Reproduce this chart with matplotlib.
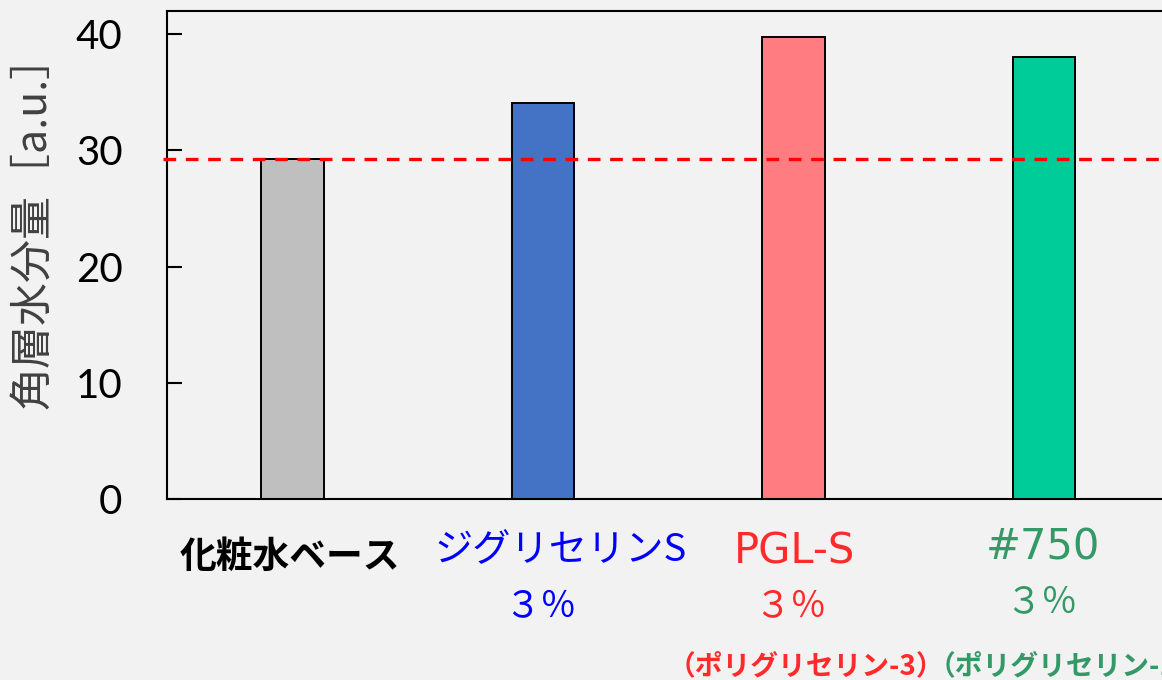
import matplotlib
matplotlib.use("Agg")
import matplotlib.pyplot as plt
import matplotlib.transforms as mtransforms

plt.rcParams['font.family'] = ['Noto Sans CJK JP', 'DejaVu Sans']

# ---- data ----
categories = ["化粧水ベース", "ジグリセリンS", "PGL-S", "#750"]
values = [29.3, 34.1, 39.8, 38.0]
baseline = 29.3
bar_colors = ["#bfbfbf", "#4472c4", "#ff7c80", "#00cc99"]
label_colors = ["#000000", "#0000ff", "#ff2b2b", "#339966"]
conc_labels = ["", "３％", "３％", "３％"]
sub_labels = ["（ポリグリセリン-3）", "（ポリグリセリン-10）"]
yticks = [0, 10, 20, 30, 40]
ylabel = "角層水分量［a.u.］"

W, H = 1162, 680
fig = plt.figure(figsize=(W / 100, H / 100), dpi=100)
fig.patch.set_facecolor("#f2f2f2")

left = 167 / W
bottom = 1 - 499 / H
height = (499 - 11) / H
width = (1169.4 - 167) / W
ax = fig.add_axes([left, bottom, width, height])
ax.set_facecolor("#f2f2f2")

x = list(range(len(categories)))
ax.bar(x, values, width=0.25, color=bar_colors, edgecolor="black", linewidth=1.4, zorder=2)
ax.axhline(baseline, xmin=-0.004, xmax=1.0, color="#ff0000", linewidth=2.4,
           dashes=(3.8, 2.9), clip_on=False, zorder=3)

ax.set_xlim(-0.5, 3.5)
ax.set_ylim(0, 42)
ax.set_yticks(yticks)
ax.set_xticks([])
ax.tick_params(axis="y", direction="in", length=11, width=1.5, pad=32,
               labelsize=29, labelcolor="black")
for lab in ax.get_yticklabels():
    lab.set_fontfamily(["Lato", "DejaVu Sans"])
for side in ["left", "bottom", "top", "right"]:
    ax.spines[side].set_linewidth(1.5)
    ax.spines[side].set_color("black")

fig.text(33 / W, 1 - 221 / H, ylabel, rotation=90, ha="center", va="center",
         fontsize=31, color="#404040")

trans = mtransforms.blended_transform_factory(ax.transData, fig.transFigure)

# category labels
ax.text(x[0] - 0.01, 1 - 557 / H, categories[0], transform=trans, ha="center", va="center",
        fontsize=26.5, fontweight="bold", color=label_colors[0])
ax.text(x[1] + 0.07, 1 - 551 / H, categories[1], transform=trans, ha="center", va="center",
        fontsize=27.5, color=label_colors[1])
ax.text(x[2] + 0.005, 1 - 551 / H, categories[2], transform=trans, ha="center", va="center",
        fontsize=30, color=label_colors[2], fontfamily=["DejaVu Sans"])
ax.text(x[3] - 0.005, 1 - 547 / H, categories[3], transform=trans, ha="center", va="center",
        fontsize=30, color=label_colors[3], fontfamily=["DejaVu Sans"])

conc_y = [None, 606, 606, 602]
for i in range(1, 4):
    ax.text(x[i] - 0.012, 1 - conc_y[i] / H, conc_labels[i], transform=trans,
            ha="center", va="center", fontsize=26, color=label_colors[i])

# sub labels (chemical names)
ax.text(1.497, 1 - 666 / H, sub_labels[0], transform=trans, ha="left", va="center",
        fontsize=20, fontweight="bold", color=label_colors[2])
ax.text(2.534, 1 - 666 / H, sub_labels[1], transform=trans, ha="left", va="center",
        fontsize=20, fontweight="bold", color=label_colors[3])

fig.savefig("out.png", dpi=100, facecolor=fig.get_facecolor())
